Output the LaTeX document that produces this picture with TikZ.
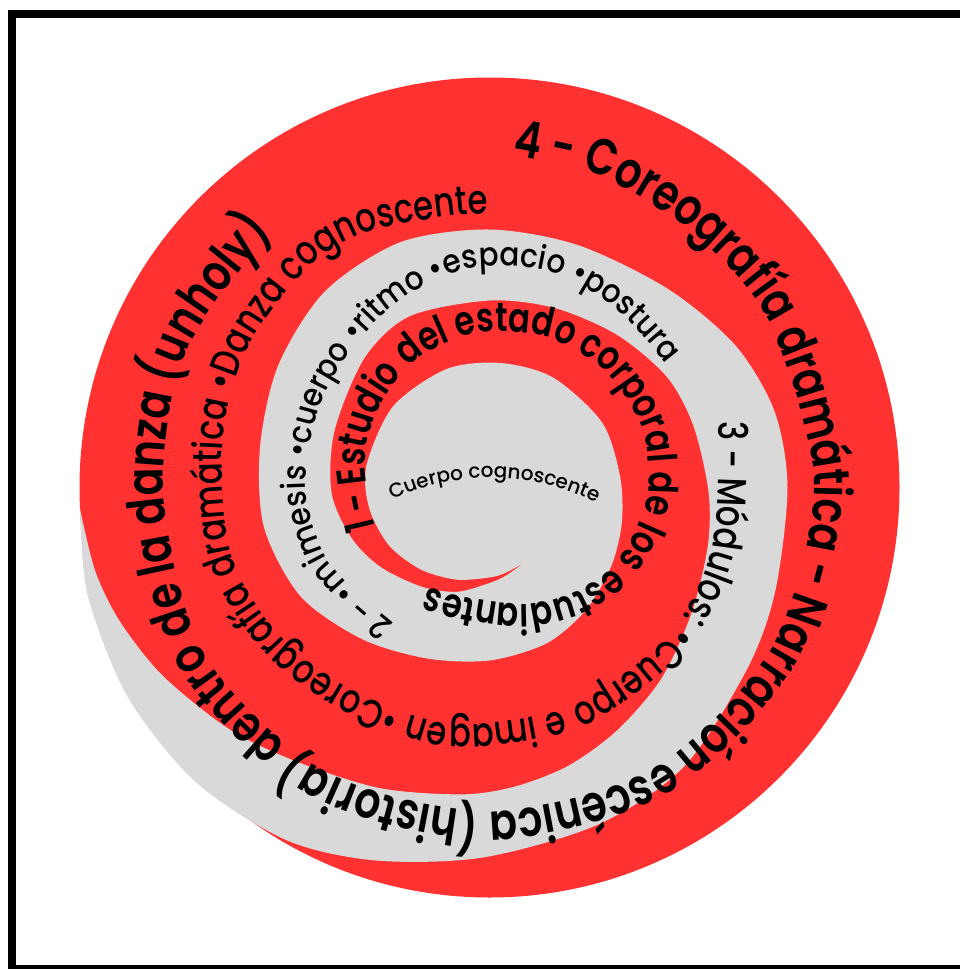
\documentclass[tikz,border=0pt]{standalone}
\usepackage{fontspec}
\usetikzlibrary{decorations.text}
\setmainfont{Poppins}
\IfFontExistsTF{Poppins Medium}{%
  \newfontfamily\fmed{Poppins Medium}%
  \newfontfamily\fmedA{Poppins Medium}[FakeStretch=0.8]%
  \newfontfamily\fmedB{Poppins Medium}[FakeStretch=0.9]}{%
  \newfontfamily\fmed{Poppins}[FakeBold=0.8]%
  \newfontfamily\fmedA{Poppins}[FakeBold=0.8,FakeStretch=0.8]%
  \newfontfamily\fmedB{Poppins}[FakeBold=0.8,FakeStretch=0.9]}
\IfFontExistsTF{Poppins SemiBold}{%
  \newfontfamily\fsemiA{Poppins SemiBold}[FakeStretch=0.8]}{%
  \newfontfamily\fsemiA{Poppins}[FakeBold=1.6,FakeStretch=0.8]}
\definecolor{spred}{RGB}{255,49,49}
\definecolor{spgray}{RGB}{217,217,217}
\tikzset{
  frameline/.style={line width=8pt, black},
  spirtext/.style={decorate, decoration={text along path, text={#1}}}
}
\begin{document}
\begin{tikzpicture}[x=1pt,y=-1pt]
\useasboundingbox (0,0) rectangle (960,969);
\fill[white] (0,0) rectangle (960,969);
\draw[frameline] (12,14) rectangle (968,969);
\coordinate (c) at (489.5,487.5);
\coordinate (ct) at (491,711.8);
% red disc
\fill[spred] (c) circle[radius=410];
% gray spiral region
\fill[spgray, shift={(c)}]
  plot[smooth] coordinates {(66:83) (80:87) (90:90) (110:98) (130:107) (150:116) (170:122) (190:125)
   (220:126) (250:126) (275:125) (300:127) (330:130) (355:131) (375:137) (393:145) (412:156)
   (430:166) (450:173) (470:182) (490:198) (510:218) (530:229) (550:233) (570:244) (590:256)
   (610:261) (630:258) (650:258) (672:267) (690:284) (705:295) (720:298) (740:304) (755:315)
   (775:340) (792:354) (811:370) (827:390) (840:407) (855:416) (870:418) (885:416) (897:410)}
  -- plot[smooth] coordinates {(537:410) (528:403) (520:393) (510:377) (497:355) (485:335) (470:320)
   (455:308) (445:300) (434:289) (422:274) (408:257) (392:238) (375:226) (361:219) (343:213)
   (328:209) (310:199) (290:191) (270:187) (245:189) (226:180) (200:165) (178:158) (160:147)
   (144:135) (124:120) (107:109) (90:95.5) (80:90) (66:83)} -- cycle;
% text 1
\path[shift={(c)}, spirtext={|\fsemiA\fontsize{40.5}{40.5}\selectfont|1 - Estudio del estado corporal de los estudiantes}]
  plot[smooth] coordinates {(160:121) (190:127) (215:136) (240:147) (265:155) (290:161) (315:164)
   (340:164) (365:158) (390:148) (410:136) (430:124) (450:114) (479:116) (500:120) (520:125)};
% text 2
\path[shift={(c)}, spirtext={|\fmedB\fontsize{32.8}{32.8}\selectfont|2 - •mimesis •cuerpo •ritmo •espacio •postura}]
  plot[smooth] coordinates {(125:166) (155:177) (180:184) (205:188) (225:195) (245:208) (265:220)
   (285:224) (305:219) (330:216) (350:214) (370:214)};
% text 3
\path[shift={(c)}, spirtext={|\fmedA\fontsize{40.6}{40.6}\selectfont|3 - Módulos: •Cuerpo e imagen •Coreografía dramática •Danza cognoscente}]
  plot[smooth] coordinates {(344:238) (375:231) (400:232) (430:234) (460:240) (485:245) (505:257)
   (525:267) (550:271) (570:279) (590:285) (605:283) (630:274) (650:268) (670:266)};
% text 4
\path[shift={(c)}, spirtext={|\fsemiA\fontsize{51}{51}\selectfont|4 - Coreografía dramática - Narración escénica (historia) dentro de la danza (unholy)}]
  plot[smooth] coordinates {(274:333) (290:331) (310:326) (330:325) (360:325) (390:325) (420:326)
   (450:324) (480:328) (510:330) (540:326) (565:332) (592:336) (610:337) (630:337)};
% center text
\path[shift={(ct)}, spirtext={|\fmed\fontsize{20}{20}\selectfont|Cuerpo cognoscente}]
  plot[domain=245:320, samples=40, smooth] (\x:234);
\end{tikzpicture}
\end{document}
